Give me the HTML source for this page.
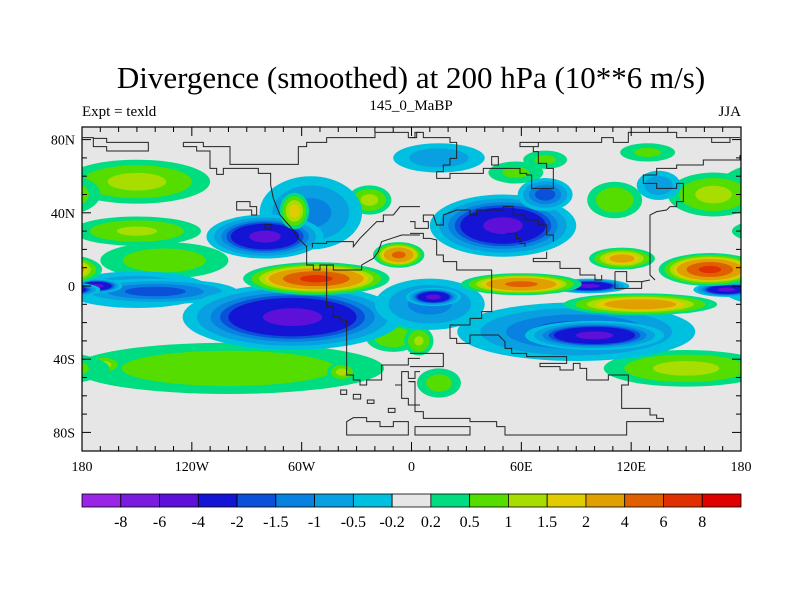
<!DOCTYPE html>
<html><head><meta charset="utf-8">
<style>
html,body{margin:0;padding:0;background:#fff;}
svg{display:block;font-family:"Liberation Serif",serif;}
</style></head>
<body>
<svg id="chart" width="800" height="600" viewBox="0 0 800 600" xmlns="http://www.w3.org/2000/svg">
<defs>
<clipPath id="plotclip"><rect x="82" y="127" width="659" height="324"/></clipPath>
</defs>
<rect width="800" height="600" fill="#fff"/>
<text x="411" y="88" font-size="31" text-anchor="middle">Divergence (smoothed) at 200 hPa (10**6 m/s)</text>
<text x="82" y="116" font-size="15">Expt = texld</text>
<text x="411" y="110" font-size="15" text-anchor="middle">145_0_MaBP</text>
<text x="741" y="116" font-size="15" text-anchor="end">JJA</text>
<g clip-path="url(#plotclip)">
<rect x="82" y="127" width="659" height="324" fill="#e6e6e6"/>
<g id="fields"></g>
<g fill="none" stroke="#222" stroke-width="1">
<g transform="translate(80,125) scale(0.33333)">
<path vector-effect="non-scaling-stroke" d="M8,38H40V65H80V78H205V52H80V40H40"/>
<path vector-effect="non-scaling-stroke" d="M310,52H370V65H450V118H655V65H680V52H740V38H885V22H985V38H1005V22H1020"/>
<path vector-effect="non-scaling-stroke" d="M310,52V65H350V78H390V130H410V148H430V130H535V145H572V180L580,220L600,270L635,310L655,340L680,365V420H700V435H720V420H740V545H760V575H780V585H800V750H820V765H840V780H860V765H905V720H985V700H1020"/>
<path vector-effect="non-scaling-stroke" d="M697,368V355H740V350H820V365L840,340L850,330L870,310L890,290H910V270H940L960,245H1020"/>
<path vector-effect="non-scaling-stroke" d="M740,420H760V435H845V420L880,400L895,380L905,350L935,340L965,330H1020"/>
<path vector-effect="non-scaling-stroke" d="M470,230H510V245H530V270H515V255H470Z"/>
<path vector-effect="non-scaling-stroke" d="M555,298H575V312H555Z M782,795H800V808H782Z M820,808H842V822H820Z M862,825H882V835H862Z M925,850H945V862H925Z"/>
<path vector-effect="non-scaling-stroke" d="M800,930V890L820,878H860V890H900V905H940V890H985V930Z"/>
<path vector-effect="non-scaling-stroke" d="M945,780H965V740H985V760H1005V740H1020 M965,780V820H985V840H1020 M985,770H1005V800"/>
</g>
<g transform="translate(410,125) scale(0.33333)">
<path vector-effect="non-scaling-stroke" d="M0,38H20V22H40V38H120V52H140V100H120V120H100V140H80V160H120V145H220V130H330V145H350V150H365V190H430V130H410V115H385V80H370V65H385V52H330V65H385"/>
<path vector-effect="non-scaling-stroke" d="M385,52H575V38H610V52H655V22H800V38H990"/>
<path vector-effect="non-scaling-stroke" d="M905,38V52H960V38 M990,90V105H880V120H800V130H740V150H700V175H740V190H800V175H820V230H800V245H780L770,255L740,260L720,270V450L735,465"/>
<path vector-effect="non-scaling-stroke" d="M245,95H265V120H245Z"/>
<path vector-effect="non-scaling-stroke" d="M0,325H40V340H60L80,345V390H100V410H140V435H245V560H215V580H180V600H120V640H140V655H180V630H265L285,650V670H305V685H350V695H470V715H390V725H450V735H490V715H510V730H530V765H595V750H655V780H635V850H720V870H740V880H760V890H650V930H285V905H260V890H180V880H40V860H15V770H0"/>
<path vector-effect="non-scaling-stroke" d="M0,685H100V725H0 M15,905H180V930H15Z"/>
<path vector-effect="non-scaling-stroke" d="M0,290H15V310H55V290H40V270H70L80,300H100V270L140,255H180V270H200V255H280V245H310V270H345V285H385V300H410V330H430V350 M290,325H320V340H330V355H345V365 M410,380V400H370V410H450V430H510V450H555V465H575V450 M615,440H650V470H700 M615,440V490H695V470L720,465"/>
</g>
</g>
</g>
<rect x="82" y="127" width="659" height="324" fill="none" stroke="#000" stroke-width="1.2"/>
<g id="axes" font-size="14"></g>
<g id="colorbar" font-size="16"></g>
</svg>
<script>
// ---- data ----
const levels = [-8,-6,-4,-2,-1.5,-1,-0.5,-0.2,0.2,0.5,1,1.5,2,4,6,8];
const levelLabels = ["-8","-6","-4","-2","-1.5","-1","-0.5","-0.2","0.2","0.5","1","1.5","2","4","6","8"];
const levelColors = ["#9a25e6","#7a1be0","#5e10d8","#1414d4","#0a50d8","#0882e0","#08a0e0","#00c0e0","#e6e6e6","#00dd80","#55dd00","#a8dd00","#e0cc00","#e0a000","#e06000","#e03000","#e00000"];
const lonTicks = [-180,-120,-60,0,60,120,180];
const lonTickLabels = ["180","120W","60W","0","60E","120E","180"];
const latTicks = [80,40,0,-40,-80];
const latTickLabels = ["80N","40N","0","40S","80S"];
// anomaly centres (lon, lat), radii (deg), peak value
const blobLon  = [-150,-150,-135,-100,-168,-38,150,165,111,57,73,129,-23,-10,15,4, 15,-55,-150,-80,50,73,-140,-65,10,12,90,100,135,-172,97,172, -64,-52,-7,60,115,163,125];
const blobLat  = [57,30,14,-45,-43,-47,-45,50,47,62,69,73,47,-28,-53,-30, 70,40,-2,27,33,50,-3,-17,-10,-6,-25,-27,55,0,0,-2, 41,4,17,1,15,9,-10];
const blobRx   = [40,35,35,85,10,8,45,25,15,15,12,15,12,15,12,8, 25,28,40,32,40,15,45,60,30,15,65,38,12,14,22,18, 8,40,14,33,18,28,42];
const blobRy   = [12,8,10,14,5,5,10,12,10,6,5,5,8,8,8,8, 8,20,10,12,17,9,7,18,14,5,16,8,8,4,4,4, 10,9,7,6,6,9,6];
const blobPeak = [1.2,1.1,0.8,0.9,1.2,1.2,1.2,1.2,0.9,0.6,0.6,0.6,1.2,0.9,0.7,1.1, -0.8,-1.2,-1.2,-4.5,-4.5,-1.8,-1.8,-4.5,-1.2,-4.5,-1.8,-4.5,-0.8,-4.5,-4.5,-4.5, 1.8,6.5,4.5,4.5,2.5,6.5,3];

// ---- axis functions ----
const X0=82, X1=741, YEQ=286, PX=(X1-X0)/360;
function xOf(lon){return X0+(lon+180)*PX;}
function yOf(lat){return YEQ-lat*1.83;}
const NS="http://www.w3.org/2000/svg";
function mk(tag,attrs,parent){const e=document.createElementNS(NS,tag);for(const k in attrs)e.setAttribute(k,attrs[k]);parent.appendChild(e);return e;}

// ---- fields ----
const fields=document.getElementById('fields');
for(let i=0;i<blobLon.length;i++){
  const v=blobPeak[i];
  const g=mk('g',{},fields);
  
  
  const rings=[];
  if(v>0){levels.forEach((t,k)=>{if(t>=0.2&&t<v)rings.push({t:t,c:levelColors[k+1]});});}
  else{levels.slice().reverse().forEach((t,kk)=>{const k=levels.length-1-kk;if(t<=-0.2&&t>v)rings.push({t:t,c:levelColors[k]});});}
  const base=Math.log(v/(v>0?0.2:-0.2));
  for(const off of [-360,0,360]){
    const cx=xOf(blobLon[i]+off), cy=yOf(blobLat[i]);
    if(cx+blobRx[i]*PX<X0-5||cx-blobRx[i]*PX>X1+5)continue;
    rings.forEach(r=>{
      const s=Math.pow(Math.log(v/r.t)/base,0.4);
      const e=mk('ellipse',{cx:cx,cy:cy,rx:blobRx[i]*PX*s,ry:blobRy[i]*1.83*s,fill:r.c},g);
      
      
    });
  }
}

// ---- axes ----
const axes=document.getElementById('axes');
for(let lon=-180;lon<=180;lon+=10){
  const major=lon%60===0, len=major?9:5, x=xOf(lon);
  mk('line',{x1:x,y1:451,x2:x,y2:451-len,stroke:'#000'},axes);
  mk('line',{x1:x,y1:127,x2:x,y2:127+len,stroke:'#000'},axes);
}
for(let lat=-80;lat<=80;lat+=10){
  const major=lat%40===0, len=major?9:5, y=yOf(lat);
  mk('line',{x1:82,y1:y,x2:82+len,y2:y,stroke:'#000'},axes);
  mk('line',{x1:741,y1:y,x2:741-len,y2:y,stroke:'#000'},axes);
}
lonTicks.forEach((lon,i)=>{
  const t=mk('text',{x:xOf(lon),y:471,'text-anchor':'middle'},axes);
  t.textContent=lonTickLabels[i];
  
  
});
latTicks.forEach((lat,i)=>{
  const t=mk('text',{x:75,y:yOf(lat)+5,'text-anchor':'end'},axes);
  t.textContent=latTickLabels[i];
  
  
});

// ---- colorbar ----
const cb=document.getElementById('colorbar');
const CB0=82, CBW=(741-82)/levelColors.length;
levelColors.forEach((c,i)=>{
  const r=mk('rect',{x:CB0+i*CBW,y:494,width:CBW,height:13,fill:c,stroke:'#000','stroke-width':0.8},cb);
  
  
});
levelLabels.forEach((l,i)=>{
  const t=mk('text',{x:CB0+(i+1)*CBW,y:527,'text-anchor':'middle'},cb);
  t.textContent=l;
  
  
});
</script>
</body></html>
